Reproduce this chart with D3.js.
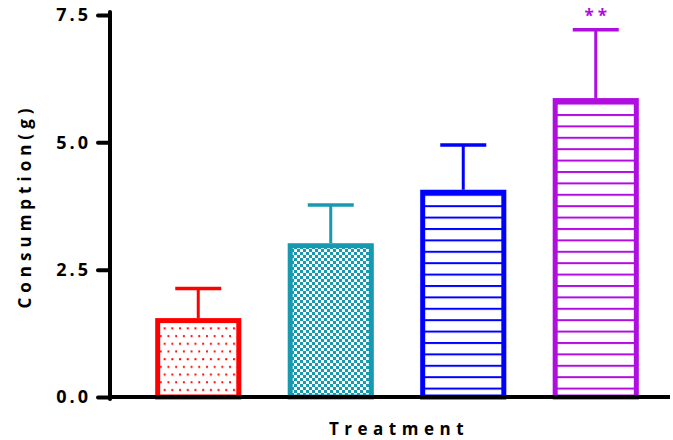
<html>
<head>
  <script src="https://cdn.jsdelivr.net/npm/d3@7/dist/d3.min.js"></script>
</head>
<style>
  body { margin: 0; background: white; }
  text { font-family: "Open Sans", sans-serif; font-weight: bold; }
</style>
<body>
  <svg width="673" height="440" id="chart"></svg>
  <script>
    // data
    var groups = ['Control', 'Group 2', 'Group 3', 'Group 4'];
    var means = [1.50, 2.97, 4.02, 5.82];
    var sds = [0.63, 0.80, 0.93, 1.39];
    var marks = ['', '', '', '**'];
    var yTicks = [0, 2.5, 5.0, 7.5];
    var colors = ['#ff0000', '#1799b0', '#0000ff', '#b00ee0'];
    var fills = ['url(#dots)', 'url(#checks)', 'url(#lines-blue)', 'url(#lines-purple)'];

    var svg = d3.select('#chart');

    // fill patterns
    var defs = svg.append('defs');
    var dots = defs.append('pattern').attr('id', 'dots')
      .attr('patternUnits', 'userSpaceOnUse').attr('width', 7.7).attr('height', 15.4);
    dots.append('rect').attr('width', 7.7).attr('height', 15.4).attr('fill', 'white');
    dots.append('rect').attr('x', 2).attr('y', 4).attr('width', 2).attr('height', 2).attr('fill', '#ff0000');
    dots.append('rect').attr('x', 5.85).attr('y', 11.7).attr('width', 2).attr('height', 2).attr('fill', '#ff0000');

    var checks = defs.append('pattern').attr('id', 'checks')
      .attr('patternUnits', 'userSpaceOnUse').attr('width', 6).attr('height', 6);
    checks.append('rect').attr('width', 6).attr('height', 6).attr('fill', 'white');
    checks.append('rect').attr('width', 3).attr('height', 3).attr('fill', '#1799b0');
    checks.append('rect').attr('x', 3).attr('y', 3).attr('width', 3).attr('height', 3).attr('fill', '#1799b0');

    [['lines-blue', '#0000ff'], ['lines-purple', '#b00ee0']].forEach(function (p) {
      var pat = defs.append('pattern').attr('id', p[0])
        .attr('patternUnits', 'userSpaceOnUse').attr('width', 10).attr('height', 11.4);
      pat.append('rect').attr('width', 10).attr('height', 11.4).attr('fill', 'white');
      pat.append('rect').attr('y', 0).attr('width', 10).attr('height', 2).attr('fill', p[1]);
    });

    var x = d3.scaleBand().domain(groups).range([132, 662]).paddingInner(0.35).paddingOuter(0.175);
    var y = d3.scaleLinear().domain([0, 7.5]).range([397, 15]);

    // bars
    svg.selectAll('rect.bar')
      .data(groups)
      .enter()
      .append('rect')
      .attr('class', 'bar')
      .attr('x', function (d) { return x(d) + 2.5; })
      .attr('y', function (d, i) { return y(means[i]); })
      .attr('width', x.bandwidth() - 5)
      .attr('height', function (d, i) { return y(0) - y(means[i]); })
      .attr('fill', function (d, i) { return fills[i]; })
      .attr('stroke', function (d, i) { return colors[i]; })
      .attr('stroke-width', 5);

    // error bars
    var err = svg.selectAll('g.err').data(groups).enter().append('g');
    err.append('line')
      .attr('x1', function (d) { return x(d) + x.bandwidth() / 2; })
      .attr('x2', function (d) { return x(d) + x.bandwidth() / 2; })
      .attr('y1', function (d, i) { return y(means[i]) - 2.5; })
      .attr('y2', function (d, i) { return y(means[i] + sds[i]); })
      .attr('stroke', function (d, i) { return colors[i]; })
      .attr('stroke-width', 3);
    err.append('line')
      .attr('x1', function (d) { return x(d) + x.bandwidth() / 2 - 23; })
      .attr('x2', function (d) { return x(d) + x.bandwidth() / 2 + 23; })
      .attr('y1', function (d, i) { return y(means[i] + sds[i]); })
      .attr('y2', function (d, i) { return y(means[i] + sds[i]); })
      .attr('stroke', function (d, i) { return colors[i]; })
      .attr('stroke-width', 3.5);
    err.append('text')
      .attr('x', function (d) { return x(d) + x.bandwidth() / 2 + 2; })
      .attr('y', function (d, i) { return y(means[i] + sds[i]) - 8; })
      .attr('text-anchor', 'middle')
      .attr('fill', function (d, i) { return colors[i]; })
      .attr('font-size', '17px')
      .attr('letter-spacing', '4px')
      .text(function (d, i) { return marks[i]; });

    // axes
    var yAxis = svg.append('g')
      .attr('transform', 'translate(110,0)')
      .call(d3.axisLeft(y).tickValues(yTicks).tickFormat(d3.format('.1f')).tickSize(12).tickPadding(7).tickSizeOuter(0));
    yAxis.select('.domain').remove();
    yAxis.selectAll('.tick line').attr('stroke', 'black').attr('stroke-width', 4).attr('stroke-linecap', 'round');
    yAxis.selectAll('.tick text')
      .attr('font-family', '"Open Sans", sans-serif')
      .attr('font-weight', 'bold')
      .attr('font-size', '18px')
      .attr('letter-spacing', '3px')
      .attr('fill', 'black');

    svg.append('line')
      .attr('x1', 110).attr('x2', 110)
      .attr('y1', y(0) + 2).attr('y2', y(7.5) - 3)
      .attr('stroke', 'black').attr('stroke-width', 4).attr('stroke-linecap', 'round');
    svg.append('line')
      .attr('x1', 108).attr('x2', 670)
      .attr('y1', y(0)).attr('y2', y(0))
      .attr('stroke', 'black').attr('stroke-width', 4);

    // axis titles
    svg.append('text')
      .attr('transform', 'translate(31,206) rotate(-90)')
      .attr('text-anchor', 'middle')
      .attr('font-size', '17px')
      .attr('letter-spacing', '5px')
      .text('Consumption(g)');
    svg.append('text')
      .attr('x', 399)
      .attr('y', 435)
      .attr('text-anchor', 'middle')
      .attr('font-size', '17px')
      .attr('letter-spacing', '5.5px')
      .text('Treatment');
  </script>
</body>
</html>
